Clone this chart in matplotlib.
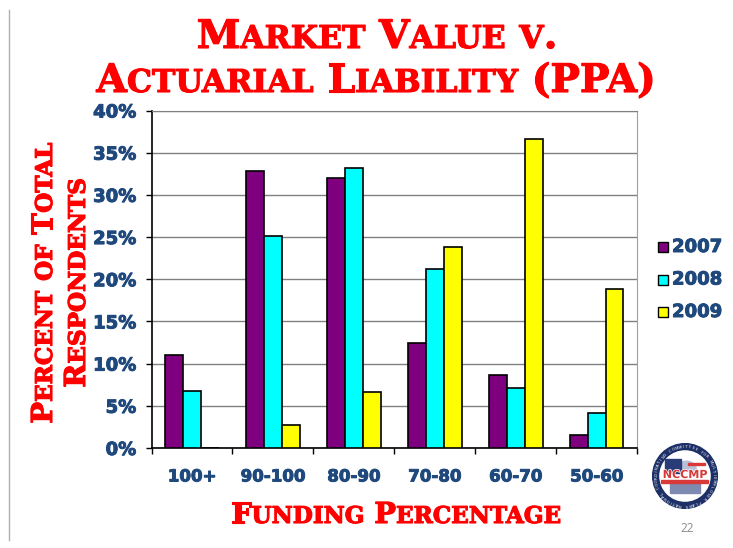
import matplotlib
matplotlib.use('Agg')
import matplotlib.pyplot as plt
import matplotlib.patheffects as pe
from matplotlib.patches import Circle, Rectangle, Wedge
import numpy as np

W, H = 733, 548

categories = ['100+', '90-100', '80-90', '70-80', '60-70', '50-60']
years = ['2007', '2008', '2009']
values_2007 = [11.0, 32.8, 32.0, 12.5, 8.6, 1.6]
values_2008 = [6.7, 25.1, 33.2, 21.2, 7.1, 4.2]
values_2009 = [0, 2.7, 6.6, 23.8, 36.6, 18.9]
colors = ['#7f007f', '#00ffff', '#ffff00']
yticks = [0, 5, 10, 15, 20, 25, 30, 35, 40]

RED = '#ff0000'
BLUE = '#1f497d'
blue_stroke = [pe.withStroke(linewidth=0.7, foreground=BLUE)]

fig = plt.figure(figsize=(W / 100, H / 100), dpi=100, facecolor='white')

# axes position in pixels of the reference
ax = fig.add_axes([151.5 / W, 1 - 448 / H, (637 - 151.5) / W, (448 - 110.5) / H])
x = np.arange(len(categories))
bw = 0.222
for i, vals in enumerate([values_2007, values_2008, values_2009]):
    ax.bar(x + (i - 1) * bw, vals, bw, color=colors[i], edgecolor='black',
           linewidth=1.2, label=years[i], zorder=3)
ax.set_xlim(-0.5, 5.5)
ax.set_ylim(0, 40)
ax.set_yticks(yticks)
ax.set_yticklabels([f'{v}%' for v in yticks], family='DejaVu Sans', weight='bold',
                   fontsize=13, color=BLUE, path_effects=blue_stroke)
ax.set_xticks(x)
ax.set_xticklabels(categories, family='DejaVu Sans', weight='bold', fontsize=12, color=BLUE,
                   path_effects=blue_stroke)
ax.set_xticks(np.arange(-0.5, 6), minor=True)
ax.tick_params(axis='x', which='major', length=0, pad=14)
ax.tick_params(axis='x', which='minor', length=4, width=1)
ax.tick_params(axis='y', length=4, width=1, pad=7)
ax.grid(axis='y', color='#808080', linewidth=1, zorder=0)
ax.spines['top'].set_color('#808080')
ax.spines['right'].set_color('#a0a0a0')
ax.spines['left'].set_linewidth(1.2)
ax.spines['bottom'].set_linewidth(1.2)

fig.canvas.draw()
renderer = fig.canvas.get_renderer()


def run_width(s, size, family):
    t = fig.text(0, 0, s, fontsize=size, family=family, weight='bold')
    w = t.get_window_extent(renderer).width
    t.remove()
    return w


def split_runs(s):
    # small caps: lower case letters are drawn as smaller capitals
    runs = []
    for ch in s:
        small = ch.islower()
        if runs and runs[-1][1] == small:
            runs[-1][0] += ch
        else:
            runs.append([ch, small])
    return runs


def small_caps(s, cx, cy, size, family='DejaVu Serif', ratio=0.8, vertical=False):
    # cx, cy: centre of the line on its baseline, in reference pixels
    runs = split_runs(s)
    widths = []
    for text, small in runs:
        sz = size * ratio if small else size
        text = text.upper()
        # trailing spaces are not measured, so measure with a guard character
        w = run_width(text + '|', sz, family) - run_width('|', sz, family)
        widths.append((text, sz, w))
    total = sum(w[2] for w in widths)
    pos = -total / 2
    for text, sz, w in widths:
        if vertical:
            px, py = cx, cy - pos
            rot = 90
        else:
            px, py = cx + pos, cy
            rot = 0
        fig.text(px / W, 1 - py / H, text, fontsize=sz, family=family, weight='bold',
                 color=RED, ha='left', va='baseline', rotation=rot, rotation_mode='anchor',
                 path_effects=[pe.withStroke(linewidth=0.8, foreground=RED)])
        pos += w


small_caps('Market Value v.', 377, 48, 28.3)
small_caps('Actuarial Liability (PPA)', 376, 92, 28.3)
small_caps('Funding Percentage', 396, 523, 20.8)
small_caps('Percent of Total', 52, 283, 20.8, vertical=True)
small_caps('Respondents', 85, 283, 20.8, vertical=True)

# legend
for i, yr in enumerate(years):
    ypx = 247 + i * 32.5
    fig.add_artist(Rectangle((658 / W, 1 - (ypx + 5) / H), 10 / W, 10 / H, facecolor=colors[i],
                             edgecolor='black', linewidth=1, transform=fig.transFigure))
    fig.text(672 / W, 1 - ypx / H, yr, family='DejaVu Sans', weight='bold', fontsize=13,
             color=BLUE, ha='left', va='center', path_effects=blue_stroke)

# slide edge rule and page number
fig.add_artist(plt.Line2D([8.5 / W, 8.5 / W], [1 - 10 / H, 1 - 540 / H], color='#b0b0b0',
                          linewidth=1, transform=fig.transFigure))
fig.text(687 / W, 1 - 529 / H, '22', family='Open Sans', fontsize=8.5, color='#8c8c8c',
         ha='center', va='center')

# seal in the corner
logo = fig.add_axes([652 / W, 1 - 509 / H, 66 / W, 66 / H])
logo.set_xlim(-1, 1)
logo.set_ylim(-1, 1)
logo.axis('off')
logo.add_patch(Circle((0, 0), 0.98, color='#1c2f66'))
logo.add_patch(Circle((0, 0), 0.76, color='white'))
logo.add_patch(Rectangle((-0.45, -0.5), 0.9, 0.32, color='#7f8ab0'))
logo.add_patch(Wedge((0.05, 0.15), 0.3, 0, 180, color='#b8c0d8'))
logo.add_patch(Rectangle((-0.62, 0.1), 0.5, 0.42, color='#2a3c78'))
logo.add_patch(Rectangle((-0.72, -0.2), 1.42, 0.08, color='#d83a3a'))
logo.add_patch(Rectangle((0.1, 0.32), 0.5, 0.08, color='#d83a3a'))
logo.text(0, 0.03, 'NCCMP', fontsize=8, weight='bold', color='#d83a3a', ha='center', va='center',
          path_effects=[pe.withStroke(linewidth=1, foreground='white')])
ring_text = 'NATIONAL COORDINATING COMMITTEE FOR MULTIEMPLOYER PLANS '
for k, ch in enumerate(ring_text):
    ang = np.pi / 2 + np.pi * 0.95 - k * 2 * np.pi / len(ring_text)
    logo.text(0.87 * np.cos(ang), 0.87 * np.sin(ang), ch, fontsize=2.8, color='white', ha='center',
              va='center', rotation=np.degrees(ang) - 90)

fig.savefig('out.png', dpi=100)
